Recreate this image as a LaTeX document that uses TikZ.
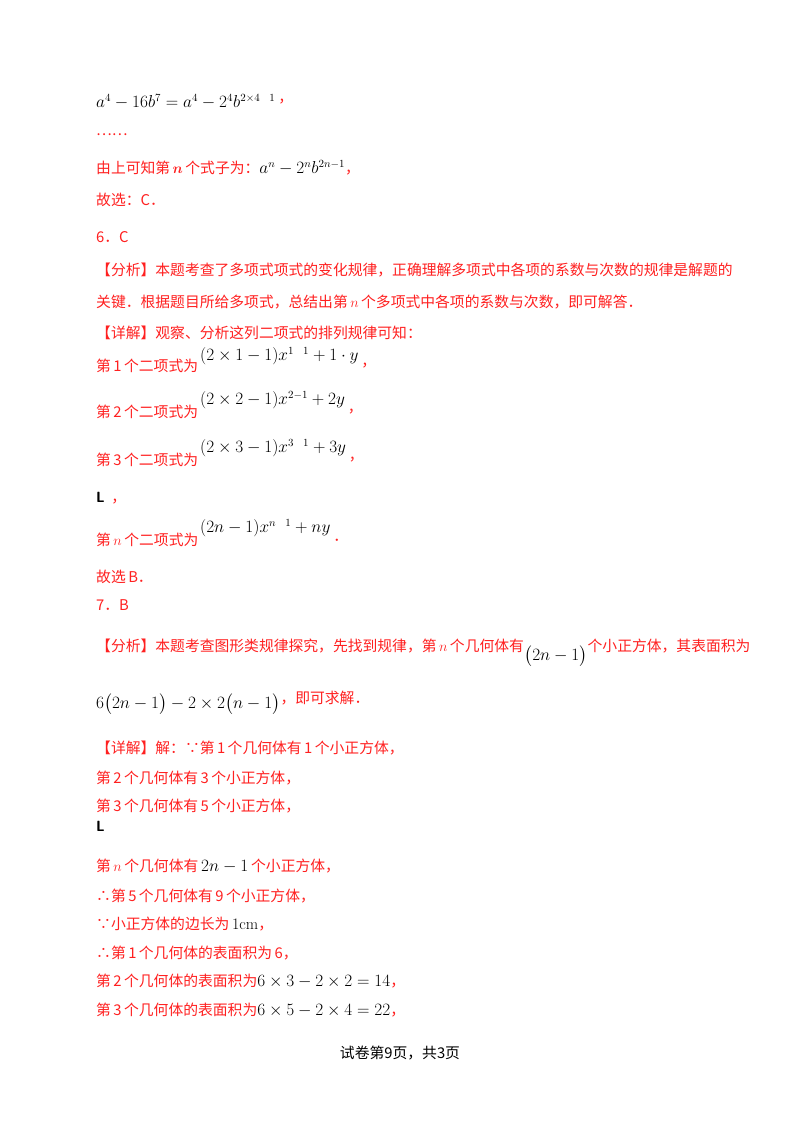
\documentclass[tikz,border=0pt]{standalone}
\usepackage{amsmath}
\usepackage{fontspec}
\newfontfamily\cjk{Noto Sans CJK SC}
\definecolor{rd}{HTML}{FF2020}
\begin{document}
\begin{tikzpicture}[x=1pt,y=-1pt,
  ln/.style={anchor=west,inner sep=0pt,text=rd,font=\cjk\fontsize{14.8}{18}\selectfont},
  mth/.style={anchor=west,inner sep=0pt,text=black,font=\fontsize{16}{18}\selectfont}]
\useasboundingbox[fill=white] (0,0) rectangle (800,1132);
\node[mth] (l1) at (96,102) {$a^4-16b^7=a^4-2^4b^{2\times4\ \ 1}$};
\node[ln,anchor=west] (l1c) at (l1.east) {\,，};
\node[ln] (l2) at (96,135) {……};
\node[ln] (l3) at (96,168) {由上可知第\,$\boldsymbol{n}$\,个式子为：\textcolor{black}{\fontsize{16}{18}\selectfont$a^n-2^nb^{2n-1}$}，};
\node[ln] (l4) at (96,200) {故选：C．};
\node[ln] (l5) at (96,237) {6．C};
\node[ln] (l6) at (96,270) {【分析】本题考查了多项式项式的变化规律，正确理解多项式中各项的系数与次数的规律是解题的};
\node[ln] (l7) at (96,302) {关键．根据题目所给多项式，总结出第\,$n$\,个多项式中各项的系数与次数，即可解答．};
\node[ln] (l8) at (96,333) {【详解】观察、分析这列二项式的排列规律可知：};
\node[ln] (l9) at (96,366) {第\,1\,个二项式为};
\node[mth] (l9m) at (200,356) {$(2\times1-1)x^{1\ \ 1}+1\cdot y$};
\node[ln] (l9c) at (l9m.east|-l9) {\,，};
\node[ln] (l10) at (96,412) {第\,2\,个二项式为};
\node[mth] (l10m) at (200,400) {$(2\times2-1)x^{2-1}+2y$};
\node[ln] (l10c) at (l10m.east|-l10) {\,，};
\node[ln] (l11) at (96,460) {第\,3\,个二项式为};
\node[mth] (l11m) at (200,448) {$(2\times3-1)x^{3\ \ 1}+3y$};
\node[ln] (l11c) at (l11m.east|-l11) {\,，};
\node[ln] (l12) at (96,498) {\textcolor{black}{\sffamily\bfseries L}\ \ ，};
\node[ln] (l13) at (96,540) {第\,$n$\,个二项式为};
\node[mth] (l13m) at (200,528) {$(2n-1)x^{n\ \ 1}+ny$};
\node[ln] (l13c) at (l13m.east|-l13) {\,．};
\node[ln] (l14) at (96,577) {故选\,B．};
\node[ln] (l15) at (96,605) {7．B};
\node[ln] (l16) at (96,646) {【分析】本题考查图形类规律探究，先找到规律，第\,$n$\,个几何体有};
\node[mth] (l16m) at (l16.east) [yshift=-10pt] {$\big(2n-1\big)$};
\node[ln] (l16b) at (l16m.east|-l16) {个小正方体，其表面积为};
\node[mth] (l17) at (96,704) {$6\big(2n-1\big)-2\times2\big(n-1\big)$};
\node[ln] (l17b) at ([yshift=6pt]l17.east) {，即可求解．};
\node[ln] (l18) at (96,748) {【详解】解：∵第\,1\,个几何体有\,1\,个小正方体，};
\node[ln] (l19) at (96,778) {第\,2\,个几何体有\,3\,个小正方体，};
\node[ln] (l20) at (96,806) {第\,3\,个几何体有\,5\,个小正方体，};
\node[ln] (l21) at (96,826) {\textcolor{black}{\sffamily\bfseries L}};
\node[ln] (l22) at (96,866) {第\,$n$\,个几何体有\textcolor{black}{\fontsize{16}{18}\selectfont$\,2n-1\,$}个小正方体，};
\node[ln] (l23) at (96,896) {∴第\,5\,个几何体有\,9\,个小正方体，};
\node[ln] (l24) at (96,924) {∵小正方体的边长为\textcolor{black}{\fontsize{16}{18}\selectfont\,$\mathrm{1cm}$}，};
\node[ln] (l25) at (96,953) {∴第\,1\,个几何体的表面积为\,6，};
\node[ln] (l26) at (96,981) {第\,2\,个几何体的表面积为\textcolor{black}{\fontsize{16}{18}\selectfont$6\times3-2\times2=14$}，};
\node[ln] (l27) at (96,1010) {第\,3\,个几何体的表面积为\textcolor{black}{\fontsize{16}{18}\selectfont$6\times5-2\times4=22$}，};
\node[ln,text=black,anchor=center] (ft) at (400,1053) {试卷第9页，共3页};
\end{tikzpicture}
\end{document}
